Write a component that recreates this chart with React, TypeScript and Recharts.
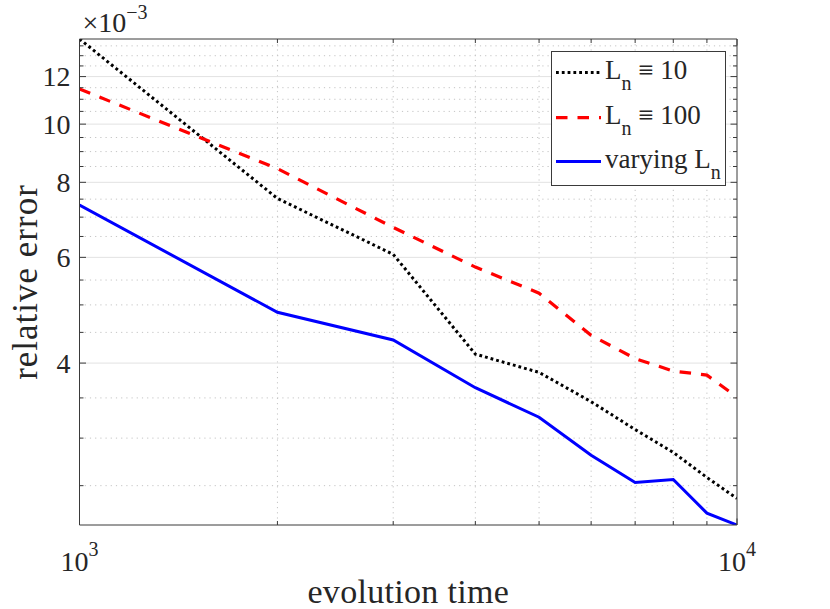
import { LineChart, Line, XAxis, YAxis, CartesianGrid, Legend } from "recharts";

// evolution time (x) and relative error in units of 1e-3 (y)
const times = [1000, 2000, 3000, 4000, 5000, 6000, 7000, 8000, 9000, 10000];
const errFixed10 = [13.86, 7.52, 6.07, 4.14, 3.86, 3.45, 3.1, 2.84, 2.58, 2.38];
const errFixed100 = [11.44, 8.43, 6.73, 5.78, 5.23, 4.45, 4.07, 3.88, 3.82, 3.51];
const errVarying = [7.33, 4.86, 4.37, 3.64, 3.25, 2.81, 2.53, 2.56, 2.25, 2.15];

const seriesNames = ["L_n ≡ 10", "L_n ≡ 100", "varying L_n"];

const xMajorTicks = [1000, 10000];
const xMinorTicks = [2000, 3000, 4000, 5000, 6000, 7000, 8000, 9000];
const yMajorTicks = [4, 6, 8, 10, 12];
const yMinorTicks = [2.5, 3, 3.5, 4.5, 5, 5.5, 6.5, 7, 7.5, 8.5, 9, 9.5, 10.5, 11, 11.5, 12.5, 13, 13.5];

const data = times.map((t, i) => ({
  t,
  fixed10: errFixed10[i],
  fixed100: errFixed100[i],
  varying: errVarying[i],
}));

const yMin = Math.min(...errFixed10, ...errFixed100, ...errVarying);
const yMax = Math.max(...errFixed10, ...errFixed100, ...errVarying);
const xTicks = [...xMajorTicks, ...xMinorTicks].sort((a, b) => a - b);
const yTicks = [...yMajorTicks, ...yMinorTicks].sort((a, b) => a - b);

const AXIS = "#3a3a3a";
const TEXT = "#262626";
const FONT = "'Liberation Serif', 'Times New Roman', serif";

function splitSub(name: string) {
  const i = name.indexOf("_");
  if (i < 0) return { main: name, sub: "", tail: "" };
  return { main: name.slice(0, i), sub: name[i + 1], tail: name.slice(i + 2) };
}

function LeftTick(props: any) {
  const { x, y, payload } = props;
  const major = yMajorTicks.includes(payload.value);
  return (
    <g>
      <line x1={x} x2={x + (major ? 6.5 : 4)} y1={y} y2={y} stroke={AXIS} strokeWidth={1} />
      {major && (
        <text x={x - 9} y={y} dy="0.34em" textAnchor="end" fontSize={28} fill={TEXT} fontFamily={FONT}>
          {payload.value}
        </text>
      )}
    </g>
  );
}

function RightTick(props: any) {
  const { x, y, payload } = props;
  const major = yMajorTicks.includes(payload.value);
  return <line x1={x} x2={x - (major ? 6.5 : 4)} y1={y} y2={y} stroke={AXIS} strokeWidth={1} />;
}

function BottomTick(props: any) {
  const { x, y, payload } = props;
  const major = xMajorTicks.includes(payload.value);
  return (
    <g>
      <line x1={x} x2={x} y1={y} y2={y - (major ? 6.5 : 4)} stroke={AXIS} strokeWidth={1} />
      {major && (
        <text x={x} y={y + 46} textAnchor="middle" fontSize={28} fill={TEXT} fontFamily={FONT}>
          10
          <tspan dy={-15} fontSize={20}>
            {Math.round(Math.log10(payload.value))}
          </tspan>
        </text>
      )}
    </g>
  );
}

function TopTick(props: any) {
  const { x, y, payload } = props;
  const major = xMajorTicks.includes(payload.value);
  return <line x1={x} x2={x} y1={y} y2={y + (major ? 6.5 : 4)} stroke={AXIS} strokeWidth={1} />;
}

function YLabel(props: any) {
  const { x, y, width, height } = props.viewBox;
  const cy = y + height / 2;
  const bx = x + 36.5;
  return (
    <g fontFamily={FONT} fill={TEXT}>
      <text x={bx} y={cy} textAnchor="middle" fontSize={35} letterSpacing={1} transform={`rotate(-90, ${bx}, ${cy})`}>
        relative error
      </text>
      <text x={x + width + 3} y={y - 7} fontSize={28}>
        ×10
        <tspan dy={-13} fontSize={20}>
          −3
        </tspan>
      </text>
    </g>
  );
}

function XLabel(props: any) {
  const { x, y, width } = props.viewBox;
  return (
    <text x={x + width / 2} y={y + 78} textAnchor="middle" fontSize={34} fill={TEXT} fontFamily={FONT} letterSpacing={0.3}>
      evolution time
    </text>
  );
}

function LegendBox(props: any) {
  const payload = props.payload || [];
  const rows = [21.6, 66.6, 110.6];
  return (
    <svg width={176} height={136} style={{ display: "block" }}>
      <rect x={0.5} y={0.5} width={174} height={134} fill="#ffffff" stroke={AXIS} strokeWidth={1} />
      {payload.map((entry: any, i: number) => {
        const p = entry.payload || {};
        const { main, sub, tail } = splitSub(String(entry.value));
        const ly = rows[i];
        return (
          <g key={i}>
            <line x1={5} x2={50} y1={ly} y2={ly} stroke={entry.color} strokeWidth={p.strokeWidth} strokeDasharray={p.strokeDasharray} />
            <text x={54} y={ly + 6.5} fontSize={27} fill={TEXT} fontFamily={FONT}>
              {main}
              <tspan dy={11} fontSize={20}>
                {sub}
              </tspan>
              <tspan dy={-11}>{tail}</tspan>
            </text>
          </g>
        );
      })}
    </svg>
  );
}

export default function App() {
  return (
    <div style={{ position: "absolute", left: 0, top: 0, width: 830, height: 609, background: "#ffffff" }}>
      <LineChart width={830} height={609} data={data} margin={{ top: 0, right: 0, bottom: 0, left: 0 }}>
        <CartesianGrid horizontalValues={yMinorTicks} verticalValues={xMinorTicks} stroke="#c4c4c4" strokeDasharray="1.2 4" />
        <CartesianGrid horizontalValues={yMajorTicks} vertical={false} stroke="#e2e2e2" />
        <XAxis
          dataKey="t"
          type="number"
          scale="log"
          domain={[1000, 10000]}
          allowDataOverflow
          ticks={xTicks}
          interval={0}
          tick={<BottomTick />}
          tickSize={0}
          tickMargin={0}
          tickLine={false}
          axisLine={{ stroke: AXIS }}
          height={84}
          label={(p: any) => <XLabel {...p} />}
        />
        <XAxis
          xAxisId="top"
          orientation="top"
          dataKey="t"
          type="number"
          scale="log"
          domain={[1000, 10000]}
          allowDataOverflow
          ticks={xTicks}
          interval={0}
          tick={<TopTick />}
          tickSize={0}
          tickMargin={0}
          tickLine={false}
          axisLine={{ stroke: AXIS }}
          height={39}
        />
        <YAxis
          type="number"
          scale="log"
          domain={[yMin, yMax]}
          allowDataOverflow
          ticks={yTicks}
          interval={0}
          tick={<LeftTick />}
          tickSize={0}
          tickMargin={0}
          tickLine={false}
          axisLine={{ stroke: AXIS }}
          width={79.5}
          label={(p: any) => <YLabel {...p} />}
        />
        <YAxis
          yAxisId="right"
          orientation="right"
          type="number"
          scale="log"
          domain={[yMin, yMax]}
          allowDataOverflow
          ticks={yTicks}
          interval={0}
          tick={<RightTick />}
          tickSize={0}
          tickMargin={0}
          tickLine={false}
          axisLine={{ stroke: AXIS }}
          width={93}
        />
        <Line
          dataKey="fixed10"
          name={seriesNames[0]}
          stroke="#000000"
          strokeWidth={3}
          strokeDasharray="2.8 3"
          dot={false}
          isAnimationActive={false}
        />
        <Line
          dataKey="fixed100"
          name={seriesNames[1]}
          stroke="#ff0000"
          strokeWidth={3.2}
          strokeDasharray="11.5 10"
          dot={false}
          isAnimationActive={false}
        />
        <Line
          dataKey="varying"
          name={seriesNames[2]}
          stroke="#0000ff"
          strokeWidth={3}
          dot={false}
          isAnimationActive={false}
        />
        <Legend
          layout="vertical"
          align="center"
          verticalAlign="middle"
          content={<LegendBox />}
          wrapperStyle={{ position: "absolute", left: 551, top: 51, width: 176, height: 136 }}
        />
      </LineChart>
    </div>
  );
}
